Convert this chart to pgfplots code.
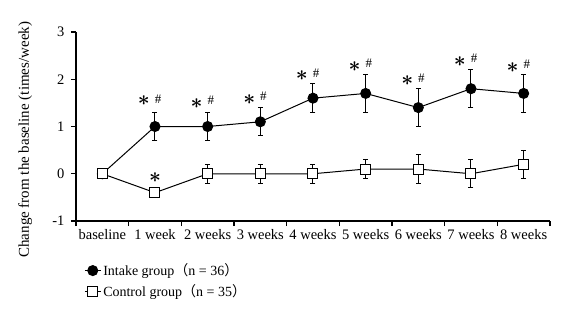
\documentclass[border=0pt]{standalone}
\usepackage{fontspec}
\setmainfont{Liberation Serif}
\newfontfamily\cjk{Noto Sans CJK SC}
\usepackage{pgfplots}
\usepackage{pgfplotstable}
\pgfplotsset{compat=1.18}

\pgfplotstableread{
x y e
0 0.0 0.0
1 1.0 0.3
2 1.0 0.3
3 1.1 0.3
4 1.6 0.3
5 1.7 0.4
6 1.4 0.4
7 1.8 0.4
8 1.7 0.4
}\intake

\pgfplotstableread{
x y e
0 0.0 0.0
1 -0.4 0.0
2 0.0 0.2
3 0.0 0.2
4 0.0 0.2
5 0.1 0.2
6 0.1 0.3
7 0.0 0.3
8 0.2 0.3
}\control

\tikzset{star/.style={inner sep=0pt, font=\fontsize{22}{22}\selectfont},
         hash/.style={inner sep=0pt, font=\fontsize{13}{14}\selectfont}}
\newcommand{\st}{{\boldmath$\ast$}}

\begin{document}
\begin{tikzpicture}
\useasboundingbox (-76pt,-96pt) rectangle (491pt,221pt);
\begin{axis}[
  at={(0,0)}, anchor=south west,
  scale only axis, width=474pt, height=189pt,
  xmin=-0.5, xmax=8.5, ymin=-1, ymax=3,
  axis lines=left,
  axis line style={-, line width=1.2pt},
  clip=false,
  xtick={-0.5,0.5,...,8.5},
  xticklabels={},
  extra x ticks={0,1,2,3,4,5,6,7,8},
  extra x tick labels={baseline,1 week,2 weeks,3 weeks,4 weeks,5 weeks,6 weeks,7 weeks,8 weeks},
  extra x tick style={major tick length=0pt, xticklabel style={yshift=-5pt}},
  ytick={-1,0,1,2,3},
  tick align=outside,
  major tick length=5pt,
  tick style={line width=1.2pt, black},
  /pgf/number format/assume math mode=true,
  tick label style={font=\fontsize{14.5}{16}\selectfont},
  yticklabel style={xshift=-3pt},
  ylabel={Change from the baseline (times/week)},
  ylabel style={font=\fontsize{15}{16}\selectfont, at={(axis description cs:-0.107,0.43)}, anchor=center, rotate=0},
  legend style={at={(axis description cs:0.017,-0.215)}, anchor=north west, draw=none, fill=none,
    font=\fontsize{14}{16}\selectfont, row sep=3pt, inner sep=0pt, cells={anchor=west},
    /tikz/every even column/.append style={column sep=0pt}},
  legend image code/.code={\draw[mark repeat=2,mark phase=2,#1] plot coordinates {(-2pt,0pt) (6pt,0pt) (14pt,0pt)};},
]
\addplot[black, line width=1pt, mark=*, mark size=5pt, mark options={fill=black},
  error bars/.cd, y dir=both, y explicit,
  error bar style={line width=1pt},
  error mark options={rotate=90, mark size=2.5pt, line width=1pt}]
  table[x=x, y=y, y error=e] {\intake};
\addlegendentry{Intake group{\cjk （}n = 36{\cjk ）}}
\addplot[black, line width=1pt, mark=square*, mark size=5pt, mark options={fill=white},
  error bars/.cd, y dir=both, y explicit,
  error bar style={line width=1pt},
  error mark options={rotate=90, mark size=2.5pt, line width=1pt}]
  table[x=x, y=y, y error=e] {\control};
\addlegendentry{Control group{\cjk （}n = 35{\cjk ）}}

\node[star] at (axis cs:0.79,1.54) {\st};
\node[hash] at (axis cs:1.06,1.58) {\#};
\node[star] at (axis cs:1.79,1.48) {\st};
\node[hash] at (axis cs:2.06,1.55) {\#};
\node[star] at (axis cs:2.79,1.56) {\st};
\node[hash] at (axis cs:3.06,1.64) {\#};
\node[star] at (axis cs:3.79,2.07) {\st};
\node[hash] at (axis cs:4.06,2.12) {\#};
\node[star] at (axis cs:4.79,2.26) {\st};
\node[hash] at (axis cs:5.06,2.33) {\#};
\node[star] at (axis cs:5.79,1.98) {\st};
\node[hash] at (axis cs:6.06,2.03) {\#};
\node[star] at (axis cs:6.79,2.38) {\st};
\node[hash] at (axis cs:7.06,2.44) {\#};
\node[star] at (axis cs:7.79,2.24) {\st};
\node[hash] at (axis cs:8.06,2.31) {\#};
\node[star] at (axis cs:1,-0.09) {\st};
\end{axis}
\end{tikzpicture}
\end{document}
